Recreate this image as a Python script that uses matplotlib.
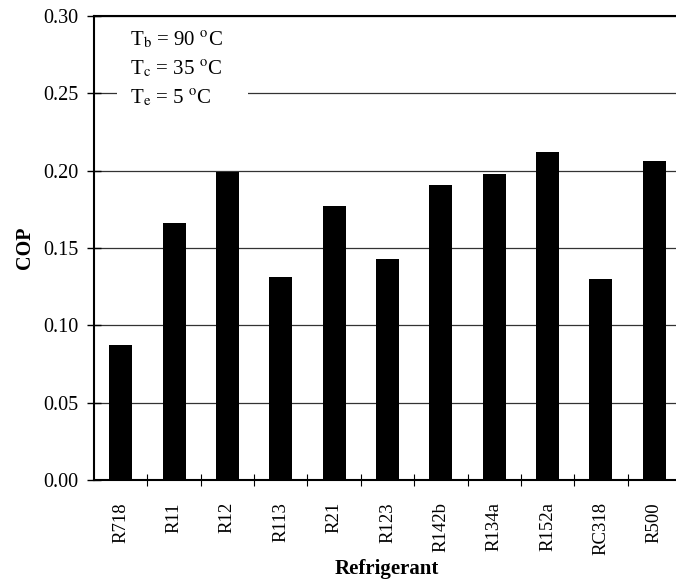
import matplotlib
matplotlib.use("Agg")
import matplotlib.pyplot as plt
from matplotlib.patches import Rectangle
import numpy as np

refrigerants = ["R718", "R11", "R12", "R113", "R21", "R123", "R142b", "R134a", "R152a", "RC318", "R500"]
cop = [0.087, 0.166, 0.199, 0.131, 0.177, 0.143, 0.191, 0.198, 0.212, 0.130, 0.206]
yticks = [0.00, 0.05, 0.10, 0.15, 0.20, 0.25, 0.30]
ytick_labels = ["0.00", "0.05", "0.10", "0.15", "0.20", "0.25", "0.30"]
annotations = [r"T$_\mathrm{b}$ = 90 $^\mathrm{o}$C",
               r"T$_\mathrm{c}$ = 35 $^\mathrm{o}$C",
               r"T$_\mathrm{e}$ = 5 $^\mathrm{o}$C"]

plt.rcParams['font.family'] = ['Liberation Serif', 'DejaVu Serif']
plt.rcParams['mathtext.fontset'] = 'stix'

W, H = 676, 587
fig = plt.figure(figsize=(W / 100, H / 100), dpi=100)
ax = fig.add_axes([94 / W, (H - 480) / H, 587 / W, 464 / H])

x = np.arange(len(refrigerants))
ax.bar(x, cop, width=0.43, color="black", zorder=3)

ax.set_xlim(-0.5, len(refrigerants) - 0.5)
ax.set_ylim(0, 0.30)
ax.set_yticks(yticks)
ax.set_yticklabels(ytick_labels, fontsize=14.5)
ax.set_xticks(x)
ax.set_xticklabels(refrigerants, rotation=90, fontsize=13.5)
ax.set_xticks(x[:-1] + 0.5, minor=True)
ax.tick_params(axis="x", which="major", length=0, pad=16)
ax.tick_params(axis="x", which="minor", direction="inout", length=8, width=0.8)
ax.tick_params(axis="y", direction="inout", length=10, width=1, pad=6)

ax.yaxis.grid(True, color="#333333", linewidth=0.9, zorder=0)
ax.set_axisbelow(True)
for s in ["left", "top", "bottom"]:
    ax.spines[s].set_linewidth(1.5)
    ax.spines[s].set_color("black")
ax.spines["right"].set_visible(False)

ax.set_ylabel("COP", fontsize=14.5, fontweight="bold", labelpad=6)
fig.text(387 / W, 1 - 569 / H, "Refrigerant", fontsize=15, fontweight="bold",
         ha="center", va="center")

ax.add_patch(Rectangle((23 / 587, 1 - 100 / 464), 131 / 587, 80 / 464,
                       transform=ax.transAxes, facecolor="white", edgecolor="none", zorder=1))
ys = [40, 69, 98]
for t, yy in zip(annotations, ys):
    ax.text(36 / 587, 1 - (yy - 16) / 464, t, transform=ax.transAxes, fontsize=15,
            va="center", ha="left", zorder=4)

fig.savefig("out.png", dpi=100)
